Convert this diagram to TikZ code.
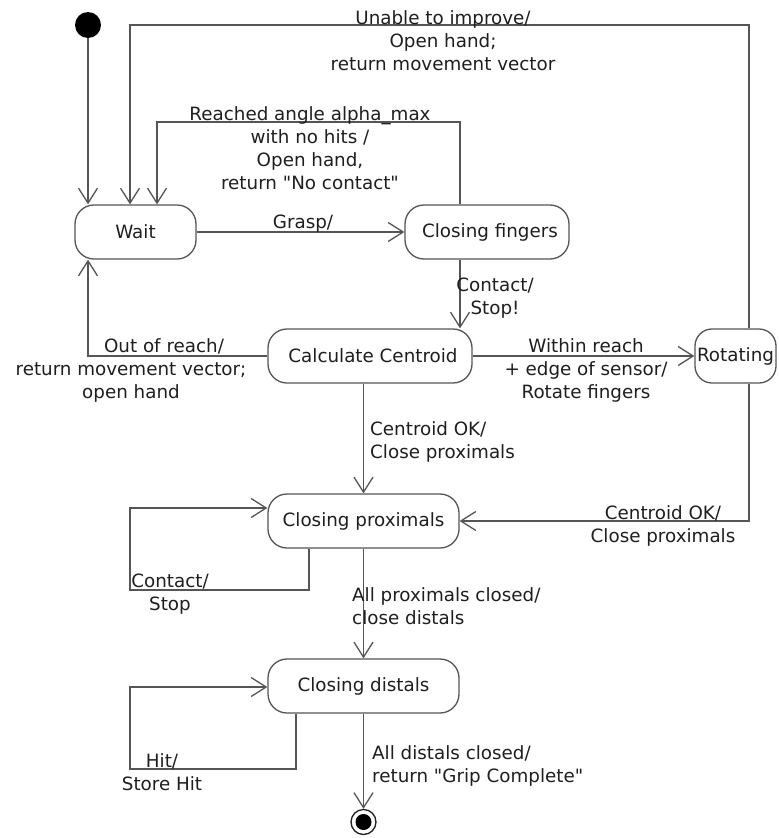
\documentclass[tikz,border=0pt]{standalone}
\usepackage{fontspec}
\setmainfont[Ligatures=TeXOff]{DejaVu Sans}
\usetikzlibrary{arrows.meta}
\definecolor{ink}{HTML}{1E1E1E}
\definecolor{wire}{HTML}{555555}
% straight double quote
\newcommand{\dq}{\char34\relax}
\begin{document}
\begin{tikzpicture}[x=1pt,y=-1pt,
  font=\fontsize{18.3}{23}\selectfont, text=ink,
  state/.style={draw=wire, line width=1.3pt, rounded corners=19pt,
    minimum height=54pt, inner sep=0pt, align=center},
  tr/.style={draw=wire, line width=1.3pt,
    -{Straight Barb[length=15pt,width=19pt,line width=1.3pt]}},
  lbl/.style={inner sep=0pt, align=center},
  lbll/.style={inner sep=0pt, align=left, anchor=west}]
\useasboundingbox (0,0) rectangle (779,838);

% states
\node[circle, fill=black, minimum size=26pt, inner sep=0pt] (init) at (88,25) {};
\node[state, minimum width=121pt] (wait) at (135.5,232) {Wait};
\node[state, minimum width=164pt] (fing) at (487,232) {\hspace*{6pt}Closing fingers};
\node[state, minimum width=204pt] (calc) at (370,356) {\hspace*{6pt}Calculate Centroid};
\node[state, minimum width=81pt, rounded corners=17pt] (rot) at (735.5,356) {Rotating};
\node[state, minimum width=191pt] (prox) at (363.5,521) {Closing proximals};
\node[state, minimum width=191pt] (dist) at (363.5,686) {Closing distals};
\node[circle, draw=ink, line width=1.3pt, minimum size=25pt, inner sep=0pt] (fin) at (363.5,822) {};
\fill[black] (fin.center) circle (8pt);

% routing corners
\coordinate (ur) at (749,25);
\coordinate (ul) at (130,25);
\coordinate (rr) at (460,122);
\coordinate (rl) at (157,122);
\coordinate (ol) at (88,356);
\coordinate (rb) at (749,521);
\coordinate (pa) at (309,590);
\coordinate (pb) at (130,590);
\coordinate (pc) at (130,508);
\coordinate (da) at (296,769);
\coordinate (db) at (130,769);
\coordinate (dc) at (130,687);

% transitions
\draw[tr] (init) -- (wait.north -| init);
\draw[tr] (rot.north -| ur) -- (ur) -- (ul) -- (wait.north -| ul);
\draw[tr] (fing.north -| rr) -- (rr) -- (rl) -- (wait.north -| rl);
\draw[tr] (wait.east) -- (fing.west);
\draw[tr] (fing.south -| rr) -- (calc.north -| rr);
\draw[tr] (calc.west) -- (ol) -- (wait.south -| ol);
\draw[tr] (calc.east) -- (rot.west);
\draw[tr] (calc.south -| prox) -- (prox.north);
\draw[tr] (rot.south -| rb) -- (rb) -- (prox.east |- rb);
\draw[tr] (prox.south -| pa) -- (pa) -- (pb) -- (pc) -- (prox.west |- pc);
\draw[tr] (prox.south) -- (dist.north);
\draw[tr] (dist.south -| da) -- (da) -- (db) -- (dc) -- (dist.west |- dc);
\draw[tr] (dist.south) -- (fin.north);

% transition labels
\node[lbl] (l1) at (443,40.5) {Unable to improve/\\Open hand;\\return movement vector};
\node[lbl] (l2) at (310,148) {Reached angle alpha\_max\\with no hits /\\Open hand,\\return \dq No contact\dq};
\node[lbl, anchor=base] (l3) at (303,228) {Grasp/};
\node[lbl] (l4) at (495,298.5) {Contact/\\Stop!};
\node[lbl] (l5) at (131,370.5) {\hspace*{66pt}Out of reach/\\return movement vector;\\open hand};
\node[lbl] (l6) at (586,370.5) {Within reach\\+ edge of sensor/\\Rotate fingers};
\node[lbll] (l7) at (370,442) {Centroid OK/\\Close proximals};
\node[lbl] (l8) at (663,525.5) {Centroid OK/\\Close proximals};
\node[lbl] (l9) at (170,594) {Contact/\\Stop};
\node[lbll] (l10) at (352,606) {All proximals closed/\\close distals};
\node[lbl] (l11) at (162,772) {Hit/\\Store Hit};
\node[lbll] (l12) at (372,765.5) {All distals closed/\\return \dq Grip Complete\dq};
\end{tikzpicture}
\end{document}
